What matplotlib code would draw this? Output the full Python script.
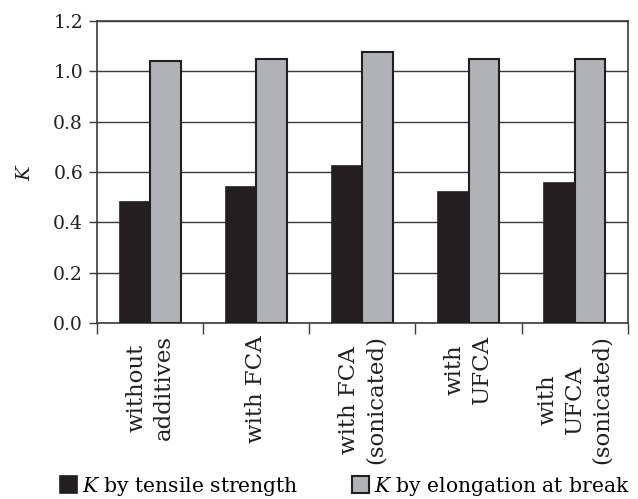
import matplotlib
matplotlib.use("Agg")
import matplotlib.pyplot as plt
import numpy as np

categories = ["without\nadditives", "with FCA", "with FCA\n(sonicated)", "with\nUFCA", "with\nUFCA\n(sonicated)"]
tensile = [0.48, 0.54, 0.625, 0.52, 0.555]
elongation = [1.04, 1.05, 1.075, 1.05, 1.05]
yticks = [0.0, 0.2, 0.4, 0.6, 0.8, 1.0, 1.2]

plt.rcParams['font.family'] = ['DejaVu Serif']
plt.rcParams['mathtext.fontset'] = 'dejavuserif'

fig = plt.figure(figsize=(6.38, 4.99), dpi=100)
ax = fig.add_axes([0.152, 0.353, 0.832, 0.605])

x = np.arange(len(categories))
w = 0.287
b1 = ax.bar(x - w/2, tensile, w, color='#231f20', edgecolor='#231f20', linewidth=1.2, zorder=3,
            label=r'$K$ by tensile strength')
b2 = ax.bar(x + w/2, elongation, w, color='#b1b2b6', edgecolor='#231f20', linewidth=1.5, zorder=3,
            label=r'$K$ by elongation at break')

ax.set_xlim(-0.5, len(categories) - 0.5)
ax.set_ylim(0, 1.2)
ax.set_yticks(yticks)
ax.set_yticklabels([f"{v:.1f}" for v in yticks], fontsize=13.5, color='#231f20')
ax.yaxis.grid(True, color='#3a3a3a', linewidth=1.0, zorder=0)
ax.set_axisbelow(True)

ax.set_xticks(x)
ax.set_xticklabels(categories, rotation=90, fontsize=16.5, color='#231f20',
                   linespacing=1.32, va='top', ha='center')
ax.tick_params(axis='x', which='major', length=0, pad=9)
ax.set_xticks(np.arange(-0.5, len(categories)), minor=True)
ax.tick_params(axis='x', which='minor', length=8, width=1.0, color='#3a3a3a', direction='out')
ax.tick_params(axis='y', length=6, width=1.0, color='#3a3a3a', direction='out', pad=4)

for s in ax.spines.values():
    s.set_color('#3a3a3a')
    s.set_linewidth(1.2)

ax.set_ylabel(r'$K$', fontsize=14, rotation=90, labelpad=14, color='#231f20')

leg_kw = dict(frameon=False, fontsize=14.6, handlelength=0.85, handleheight=0.85,
              handletextpad=0.25, borderpad=0, borderaxespad=0, loc='center left')
fig.legend([b1], [b1.get_label()], bbox_to_anchor=(60/638, 1 - 486/499), **leg_kw)
fig.legend([b2], [b2.get_label()], bbox_to_anchor=(352/638, 1 - 486/499), **leg_kw)

fig.savefig("out.png", dpi=100)
